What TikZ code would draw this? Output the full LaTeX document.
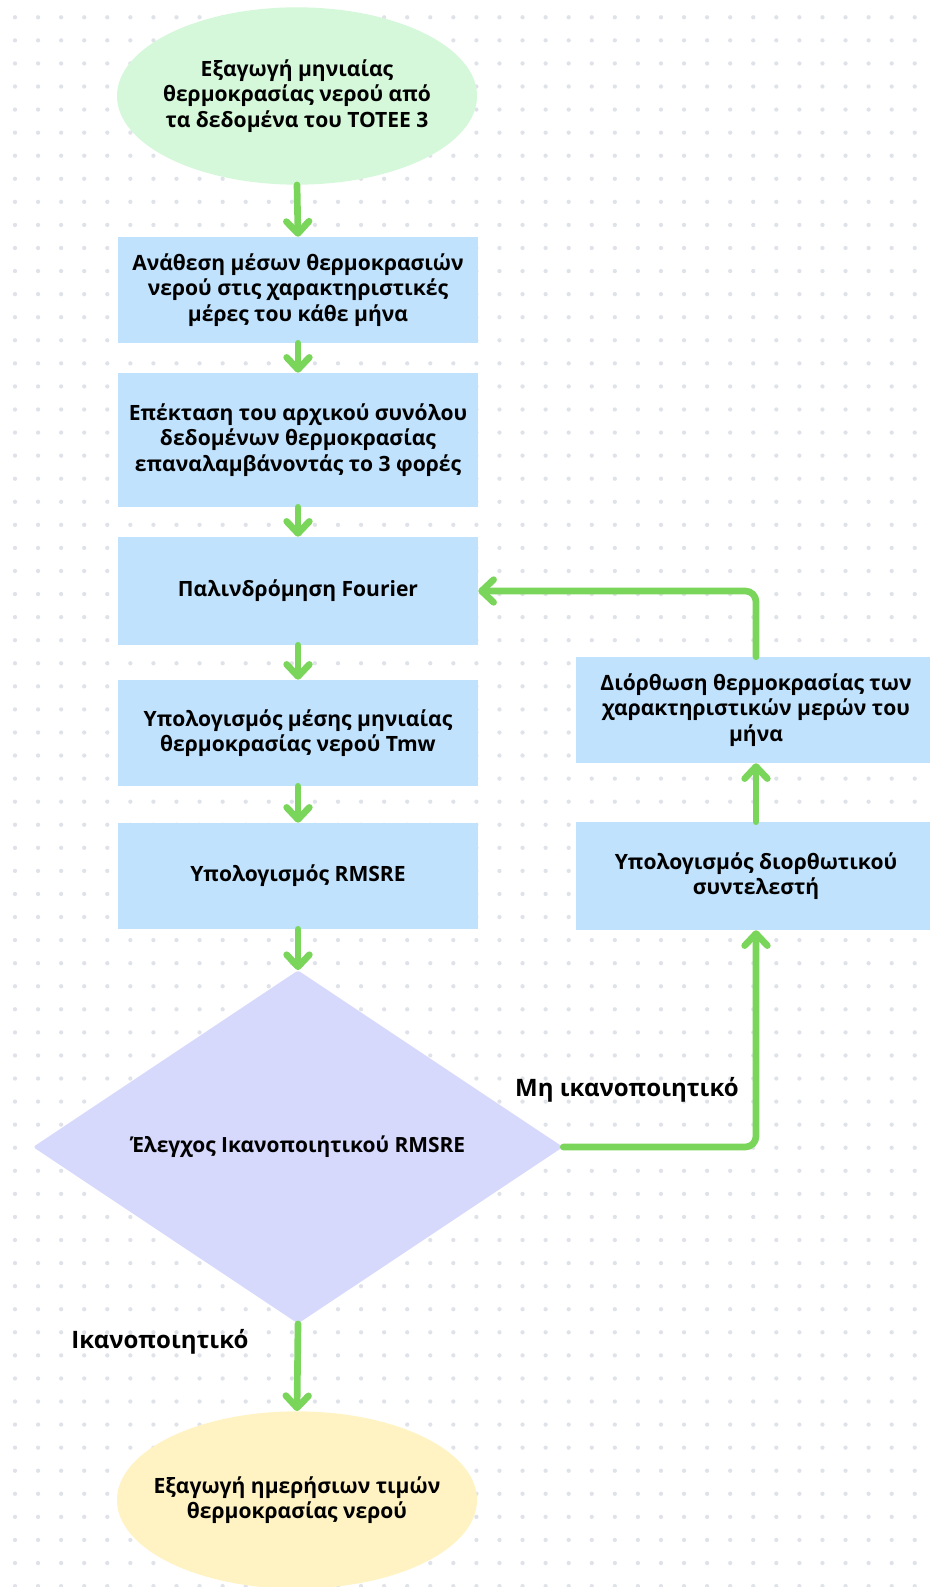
\documentclass[tikz,border=0pt]{standalone}
\usepackage{fontspec}
\setmainfont{Open Sans}
\usetikzlibrary{shapes.geometric,arrows.meta}
\definecolor{dotc}{HTML}{DFE2E8}
\definecolor{flowc}{HTML}{7AD65A}
\definecolor{boxc}{HTML}{C0E2FD}
\definecolor{startc}{HTML}{D4F8D9}
\definecolor{endc}{HTML}{FFF3C3}
\definecolor{decc}{HTML}{D6D8FC}
\tikzset{
  txt/.style={font=\bfseries\fontsize{15.8}{19}\selectfont, align=center, text=black},
  stepbox/.style={txt, rectangle, fill=boxc, minimum width=270pt, inner sep=0pt},
  oval/.style={ellipse, minimum width=270pt, minimum height=133pt, inner sep=0pt},
  decision/.style={diamond, fill=decc, minimum width=397.5pt, minimum height=265pt,
    inner sep=0pt, rounded corners=2pt},
  flow/.style={draw=flowc, line width=5pt, line cap=round, line join=round,
    -{Straight Barb[length=9pt, width=17pt, round]}},
  lbl/.style={font=\bfseries\fontsize{18}{21}\selectfont, text=black}
}
\begin{document}
\begin{tikzpicture}[x=0.75pt, y=-0.75pt]
\useasboundingbox (0,0) rectangle (930,1587);
\fill[white] (0,0) rectangle (930,1587);
% dotted background grid
\foreach \i in {0,...,40} {
  \foreach \j in {0,...,68} {
    \fill[dotc] (15+23.07*\i, 17.3+23.07*\j) circle[radius=1.6pt];
  }
}
\begin{scope}
\clip (0,0) rectangle (930,1587);
% main column
\node[oval, fill=startc] (start) at (297,96) {};
\node[txt] (starttxt) at (start.center)
  {Εξαγωγή μηνιαίας\\θερμοκρασίας νερού από\\τα δεδομένα του ΤΟΤΕΕ 3};
\node[stepbox, minimum height=79.5pt] (b1) at (298,290)
  {Ανάθεση μέσων θερμοκρασιών\\νερού στις χαρακτηριστικές\\μέρες του κάθε μήνα};
\node[stepbox, minimum height=100.5pt] (b2) at (298,440)
  {Επέκταση του αρχικού συνόλου\\δεδομένων θερμοκρασίας\\επαναλαμβάνοντάς το 3 φορές};
\node[stepbox, minimum height=81pt] (b3) at (298,591)
  {Παλινδρόμηση Fourier};
\node[stepbox, minimum height=79.5pt] (b4) at (298,733)
  {Υπολογισμός μέσης μηνιαίας\\θερμοκρασίας νερού Tmw};
\node[stepbox, minimum height=79.5pt] (b5) at (298,876)
  {Υπολογισμός RMSRE};
\node[decision] (dec) at (298,1147) {};
\node[txt, font=\fontseries{sb}\fontsize{15.7}{19}\selectfont] (dectxt) at (dec.center)
  {Έλεγχος Ικανοποιητικού RMSRE};
\node[oval, fill=endc] (end) at (297,1500) {};
\node[txt] (endtxt) at (end.center)
  {Εξαγωγή ημερήσιων τιμών\\θερμοκρασίας νερού};
% correction loop
\node[stepbox, minimum height=79.5pt] (fix) at (756,710)
  {Διόρθωση θερμοκρασίας των\\χαρακτηριστικών μερών του\\μήνα};
\node[stepbox, minimum height=81pt] (coef) at (756,876)
  {Υπολογισμός διορθωτικού\\συντελεστή};
% connectors
\draw[flow] (start.south) -- (b1.north);
\draw[flow] (b1.south) -- (b2.north);
\draw[flow] (b2.south) -- (b3.north);
\draw[flow] (b3.south) -- (b4.north);
\draw[flow] (b4.south) -- (b5.north);
\draw[flow] (b5.south) -- (dec.north);
\draw[flow] (dec.south) -- (end.north);
\draw[flow, rounded corners=8pt] (dec.east) -| (coef.south);
\draw[flow] (coef.north) -- (fix.south);
\draw[flow, rounded corners=8pt] (fix.north) |- (b3.east);
% branch labels
\node[lbl] (no) at (627,1090) {Μη ικανοποιητικό};
\node[lbl] (yes) at (160,1342) {Ικανοποιητικό};
\end{scope}
\end{tikzpicture}
\end{document}
